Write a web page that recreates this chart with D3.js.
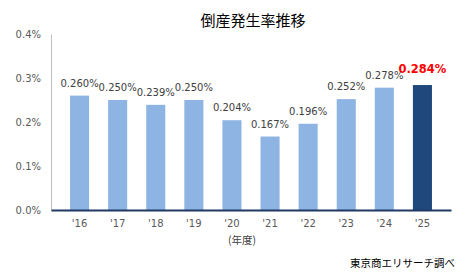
<script src="https://d3js.org/d3.v7.min.js"></script>
<style>
  body { margin: 0; background: #fff; }
  text { font-family: "DejaVu Sans", sans-serif; }
  .jp { font-family: "Noto Sans CJK JP", sans-serif; }
</style>
<div id="graph"></div>
<script>
// data
var years = ["'16", "'17", "'18", "'19", "'20", "'21", "'22", "'23", "'24", "'25"];
var rates = [0.260, 0.250, 0.239, 0.250, 0.204, 0.167, 0.196, 0.252, 0.278, 0.284];
var yTicks = [0, 0.1, 0.2, 0.3, 0.4];

var W = 476, H = 276;
var svg = d3.select('#graph').append('svg')
  .attr('width', W).attr('height', H);

var x = d3.scaleBand().domain(years).range([51, 451]).padding(0.5);
var y = d3.scaleLinear().domain([0, 0.4]).range([210, 34]);

// title
svg.append('text').attr('class', 'jp')
  .attr('x', 253).attr('y', 26)
  .attr('text-anchor', 'middle')
  .style('font-size', '15px').attr('fill', '#000')
  .text('倒産発生率推移');

// y axis
var yAxis = svg.append('g')
  .attr('transform', 'translate(51,0)')
  .call(d3.axisLeft(y).tickValues(yTicks).tickSize(0).tickPadding(10)
    .tickFormat(function(d) { return d3.format('.1f')(d) + '%'; }));
yAxis.select('.domain').attr('stroke', '#bfbfbf');
yAxis.selectAll('text').style('font-size', '10px').attr('fill', '#595959')
  .style('font-family', '"DejaVu Sans", sans-serif');

// bars
svg.append('g').selectAll('rect')
  .data(rates)
  .join('rect')
  .attr('x', function(d, i) { return x(years[i]); })
  .attr('y', function(d) { return y(d); })
  .attr('width', x.bandwidth())
  .attr('height', function(d) { return y(0) - y(d); })
  .attr('fill', function(d, i) { return i === rates.length - 1 ? '#1f497d' : '#8db4e2'; });

// x axis
var xAxis = svg.append('g')
  .attr('transform', 'translate(0,210)')
  .call(d3.axisBottom(x).tickSize(0).tickPadding(10));
xAxis.select('.domain').attr('stroke', '#1f3864').attr('stroke-width', 2);
xAxis.selectAll('text').style('font-size', '10px').attr('fill', '#595959')
  .style('font-family', '"DejaVu Sans", sans-serif');

// value labels
svg.append('g').selectAll('text')
  .data(rates)
  .join('text')
  .attr('x', function(d, i) { return x(years[i]) + x.bandwidth() / 2; })
  .attr('y', function(d, i) { return i === rates.length - 1 ? y(d) - 12 : y(d) - 9; })
  .attr('text-anchor', 'middle')
  .style('font-size', function(d, i) { return i === rates.length - 1 ? '11.5px' : '10px'; })
  .style('font-weight', function(d, i) { return i === rates.length - 1 ? 'bold' : 'normal'; })
  .attr('fill', function(d, i) { return i === rates.length - 1 ? '#ff0000' : '#404040'; })
  .text(function(d) { return d3.format('.3f')(d) + '%'; });

// unit label
svg.append('text').attr('class', 'jp')
  .attr('x', 242).attr('y', 244)
  .attr('text-anchor', 'middle')
  .style('font-size', '10.5px').attr('fill', '#404040')
  .text('(年度)');

// source
svg.append('text').attr('class', 'jp')
  .attr('x', 455).attr('y', 267)
  .attr('text-anchor', 'end')
  .style('font-size', '10.5px').attr('fill', '#000')
  .text('東京商エリサーチ調べ');
</script>
